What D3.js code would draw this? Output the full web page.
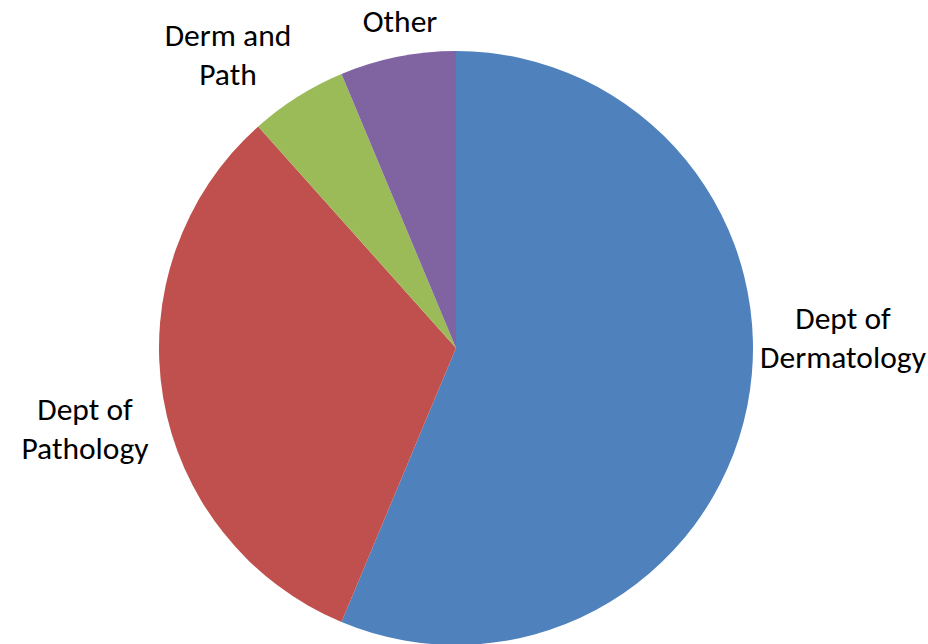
<!DOCTYPE html>
<html>
<head>
<meta charset="utf-8">
<script src="https://cdn.jsdelivr.net/npm/d3@7"></script>
<style>
  html, body { margin: 0; padding: 0; background: #fff; }
  svg { display: block; }
</style>
</head>
<body>
<svg id="chart" width="928" height="644"></svg>
<script>
const categories = ["Dept of Dermatology", "Dept of Pathology", "Derm and Path", "Other"];
const values = [56.3, 32.1, 5.3, 6.3];
const colors = ["#4F81BD", "#C0504D", "#9BBB59", "#8064A2"];
const labelLines = [["Dept of", "Dermatology"], ["Dept of", "Pathology"], ["Derm and", "Path"], ["Other"]];

const svg = d3.select("#chart");
const cx = 456, cy = 348, r = 297;

const pie = d3.pie().sort(null).value(d => d.v);
const arc = d3.arc().innerRadius(0).outerRadius(r);
const data = categories.map((c, i) => ({ c, v: values[i], i }));

const g = svg.append("g").attr("transform", `translate(${cx},${cy})`);
g.selectAll("path").data(pie(data)).join("path")
  .attr("d", arc)
  .attr("fill", d => colors[d.data.i]);

// label anchor positions (center x, first baseline y), Excel "best fit" placement
const labelPos = [[843, 329], [85, 420], [228, 46], [400, 32]];
const lineH = 39;
const lg = svg.append("g")
  .attr("font-family", "Carlito, Calibri, Lato, sans-serif")
  .attr("font-size", 31.5)
  .attr("fill", "#000")
  .attr("text-anchor", "middle");
labelLines.forEach((lines, i) => {
  const t = lg.append("text").attr("x", labelPos[i][0]).attr("y", labelPos[i][1]);
  lines.forEach((ln, j) => {
    t.append("tspan").attr("x", labelPos[i][0]).attr("dy", j === 0 ? 0 : lineH).text(ln);
  });
});
</script>
</body>
</html>
